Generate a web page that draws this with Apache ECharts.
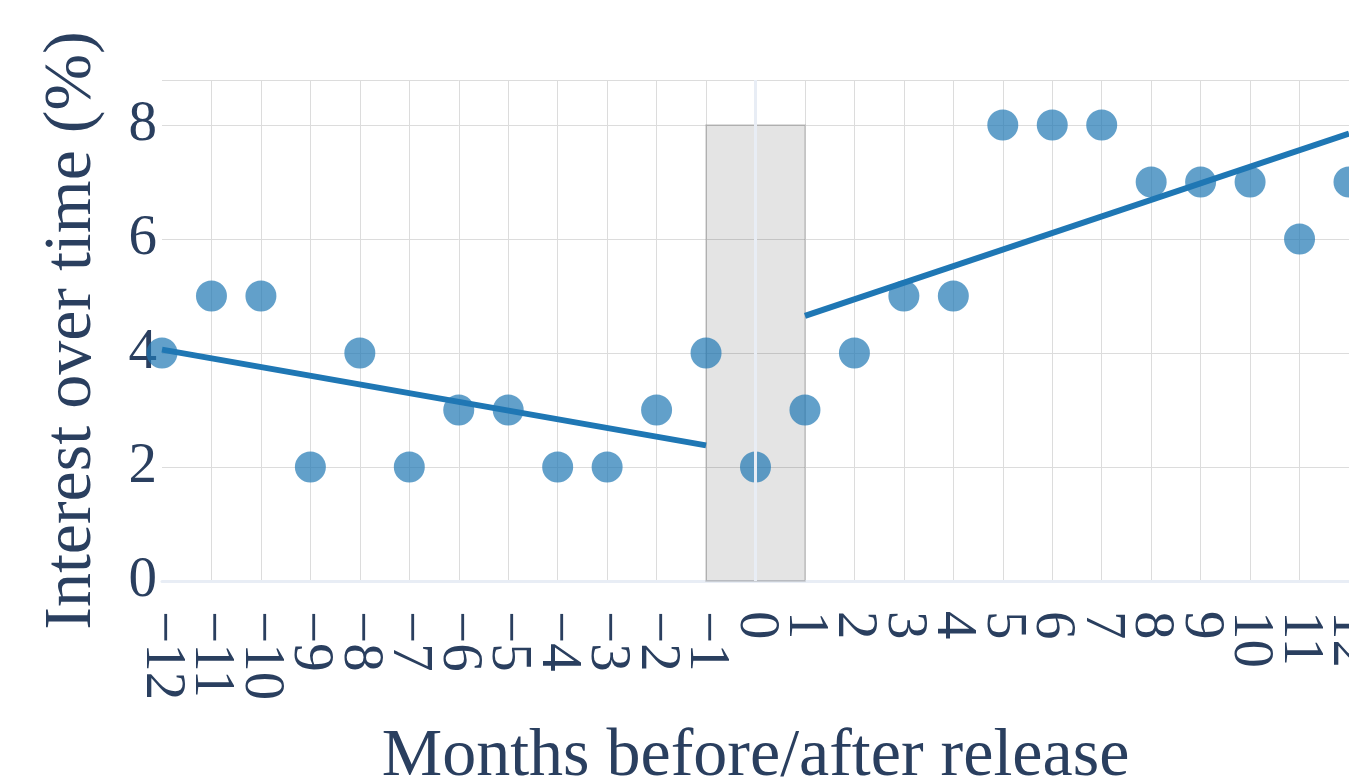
<!DOCTYPE html>
<html>
<head>
<meta charset="utf-8">
<script src="https://cdn.jsdelivr.net/npm/echarts@6/dist/echarts.min.js"></script>
<style>
  html, body { margin: 0; padding: 0; background: #fff; }
  #chart { width: 1349px; height: 782px; }
</style>
</head>
<body>
<div id="chart"></div>
<script>
// months relative to release, and the interest value for each month
const months = [-12, -11, -10, -9, -8, -7, -6, -5, -4, -3, -2, -1, 0, 1, 2, 3, 4, 5, 6, 7, 8, 9, 10, 11, 12];
const interest = [4, 5, 5, 2, 4, 2, 3, 3, 2, 2, 3, 4, 2, 3, 4, 5, 5, 8, 8, 8, 7, 7, 7, 6, 7];

// fitted trend lines, endpoints
const preTrend = [[-12, 4.06], [-1, 2.38]];
const postTrend = [[1, 4.65], [12, 7.85]];

// shaded release window
const windowX = [-1, 1];
const windowY = [0, 8];

const yTicks = [0, 2, 4, 6, 8];

const fontFamily = "'Liberation Serif', 'Times New Roman', serif";
const textColor = "#2a3f5f";
const gridColor = "#dcdcdc";
const zeroColor = "#e8edf5";
const blue = "#1f77b4";

const chart = echarts.init(document.getElementById("chart"));

const fmt = v => (Number(v) < 0 ? "\u2212" + Math.abs(v) : String(v));
const cat = v => String(v);

chart.setOption({
  backgroundColor: "#fff",
  animation: false,
  textStyle: { fontFamily },
  grid: { left: 162, right: 0, top: 80, bottom: 201, containLabel: false, outerBoundsMode: "none" },
  xAxis: {
    type: "category",
    data: months.map(cat),
    boundaryGap: false,
    name: "Months before/after release",
    nameLocation: "middle",
    nameGap: 142,
    nameTextStyle: { fontSize: 68, color: textColor, fontFamily },
    axisLine: { show: true, onZero: false, lineStyle: { color: zeroColor, width: 3 } },
    axisTick: { show: false },
    axisLabel: {
      interval: 0,
      rotate: -90,
      margin: 30,
      fontSize: 57,
      color: textColor,
      fontFamily,
      formatter: fmt
    },
    splitLine: { show: true, interval: 0, showMinLine: false, showMaxLine: false, lineStyle: { color: gridColor, width: 1 } }
  },
  yAxis: {
    type: "value",
    min: yTicks[0],
    max: 8.79,
    interval: 2,
    name: "Interest over time (%)",
    nameLocation: "middle",
    nameGap: 56,
    nameTextStyle: { fontSize: 68, color: textColor, fontFamily },
    axisLine: { show: false },
    axisTick: { show: false },
    axisLabel: { fontSize: 57, margin: 5, color: textColor, fontFamily, formatter: fmt },
    splitLine: { show: true, showMinLine: false, lineStyle: { color: gridColor, width: 1 } }
  },
  series: [
    {
      // zero line at x = 0
      type: "line",
      data: [],
      silent: true,
      z: 1,
      markLine: {
        silent: true,
        symbol: "none",
        label: { show: false },
        lineStyle: { color: zeroColor, width: 3, type: "solid" },
        data: [{ xAxis: cat(0) }]
      }
    },
    {
      type: "scatter",
      data: months.map((m, i) => [cat(m), interest[i]]),
      symbolSize: 31,
      clip: true,
      itemStyle: { color: blue, opacity: 0.7 },
      z: 2
    },
    {
      // release window shading
      type: "line",
      data: [],
      silent: true,
      z: 3,
      markArea: {
        silent: true,
        itemStyle: { color: "rgba(0,0,0,0.105)", borderColor: "rgba(110,110,110,0.3)", borderWidth: 1.5 },
        data: [[{ xAxis: cat(windowX[0]), yAxis: windowY[0] }, { xAxis: cat(windowX[1]), yAxis: windowY[1] }]]
      }
    },
    {
      type: "line",
      data: preTrend.map(p => [cat(p[0]), p[1]]),
      showSymbol: false,
      clip: true,
      lineStyle: { color: blue, width: 6 },
      z: 4
    },
    {
      type: "line",
      data: postTrend.map(p => [cat(p[0]), p[1]]),
      showSymbol: false,
      clip: true,
      lineStyle: { color: blue, width: 6 },
      z: 4
    }
  ]
});
</script>
</body>
</html>
